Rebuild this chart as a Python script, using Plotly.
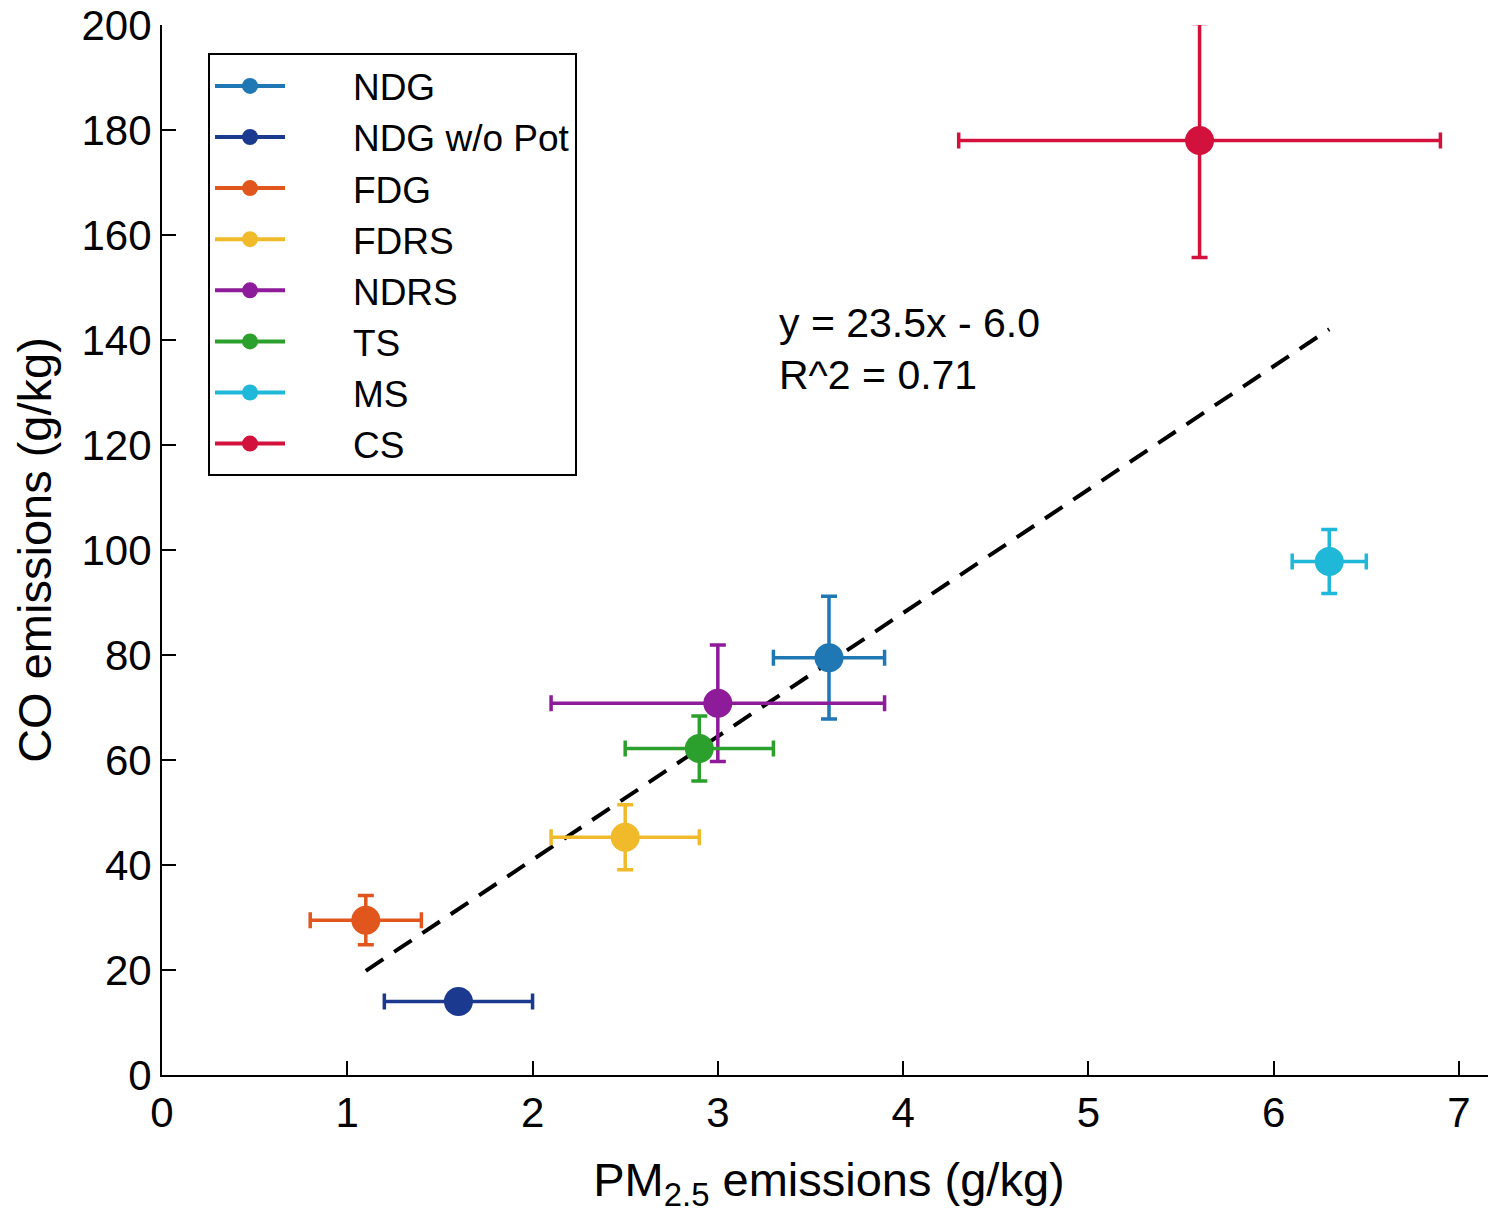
import plotly.graph_objects as go

names = ["NDG", "NDG w/o Pot", "FDG", "FDRS", "NDRS", "TS", "MS", "CS"]
pm25 = [3.6, 1.6, 1.1, 2.5, 3.0, 2.9, 6.3, 5.6]
pm25_err = [0.3, 0.4, 0.3, 0.4, 0.9, 0.4, 0.2, 1.3]
co = [79.5, 14.0, 29.5, 45.3, 70.8, 62.2, 97.8, 178.0]
co_err = [11.7, 0.0, 4.7, 6.2, 11.1, 6.2, 6.1, 22.3]
colors = ["#1F77B4", "#1B3A8F", "#E0561C", "#F0BA2A", "#8E1B99", "#2CA02C", "#1FB8D8", "#D2123C"]

fit_slope = 23.5
fit_intercept = -6.0
fit_r2 = 0.71
fit_x = [1.1, 6.3]
fit_y = [fit_slope * v + fit_intercept for v in fit_x]

x_ticks = [0, 1, 2, 3, 4, 5, 6, 7]
y_ticks = [0, 20, 40, 60, 80, 100, 120, 140, 160, 180, 200]

FONT = "Arial, 'Liberation Sans', sans-serif"
PAD = "\u2003\u2002\u2009"

fig = go.Figure()

fig.add_trace(go.Scatter(
    x=fit_x, y=fit_y, mode="lines",
    line=dict(color="black", width=4, dash="21px,13px"),
    showlegend=False, hoverinfo="skip",
))

for i, n in enumerate(names):
    fig.add_trace(go.Scatter(
        x=[pm25[i]], y=[co[i]], name=PAD + n,
        mode="lines+markers",
        marker=dict(color=colors[i], size=29, line=dict(width=0)),
        line=dict(color=colors[i], width=4),
        error_x=dict(type="data", array=[pm25_err[i]], color=colors[i], thickness=3.5, width=8),
        error_y=dict(type="data", array=[co_err[i]], color=colors[i], thickness=3.5, width=8,
                     visible=co_err[i] > 0),
        legendgroup=n,
    ))

fig.add_annotation(x=3.32, y=143.2, xref="x", yref="y", text="y = 23.5x - 6.0",
                   showarrow=False, xanchor="left", yanchor="middle",
                   font=dict(family=FONT, size=41, color="black"))
fig.add_annotation(x=3.32, y=133.3, xref="x", yref="y", text=f"R^2 = {fit_r2:.2f}",
                   showarrow=False, xanchor="left", yanchor="middle",
                   font=dict(family=FONT, size=41, color="black"))

fig.update_layout(
    width=1488, height=1209,
    margin=dict(l=154, r=0, t=17, b=142),
    paper_bgcolor="white", plot_bgcolor="white",
    font=dict(family=FONT, color="black"),
    legend=dict(
        x=0.0345, y=0.973, xanchor="left", yanchor="top",
        bgcolor="white", bordercolor="black", borderwidth=2,
        font=dict(family=FONT, size=37, color="black"),
        tracegroupgap=0, itemwidth=70,
    ),
    xaxis=dict(
        range=[0, 7.2], tickmode="array", tickvals=x_ticks,
        ticktext=[str(v) for v in x_ticks], automargin=False,
        ticklabeloverflow="allow",
        showgrid=False, zeroline=False,
        showline=True, linecolor="black", linewidth=2,
        ticks="inside", ticklen=14, tickwidth=2, tickcolor="black",
        tickfont=dict(family=FONT, size=42, color="black"),
        title=dict(text="PM<sub>2.5</sub> emissions (g/kg)",
                   font=dict(family=FONT, size=47, color="black"), standoff=28),
    ),
    yaxis=dict(
        range=[0, 200], tickmode="array", tickvals=y_ticks,
        ticktext=[str(v) for v in y_ticks], automargin=False,
        ticklabeloverflow="allow",
        showgrid=False, zeroline=False,
        showline=True, linecolor="black", linewidth=2,
        ticks="inside", ticklen=14, tickwidth=2, tickcolor="black",
        tickfont=dict(family=FONT, size=42, color="black"),
        title=dict(text="CO emissions (g/kg)",
                   font=dict(family=FONT, size=47, color="black"), standoff=16),
    ),
)

fig.write_html("out.html")
